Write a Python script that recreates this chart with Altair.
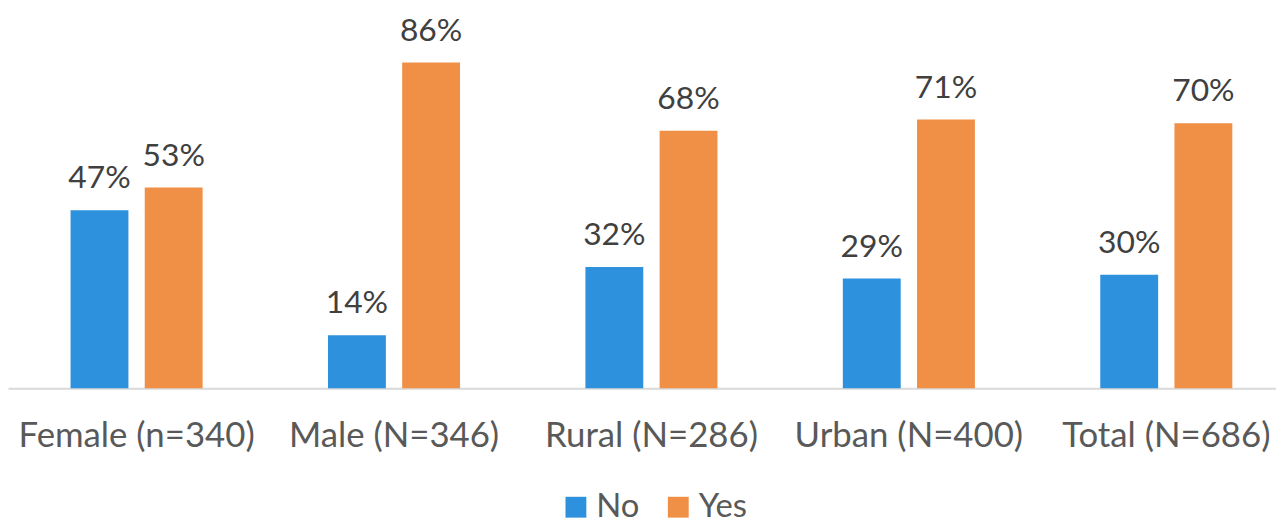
import altair as alt
import pandas as pd

categories = ["Female (n=340)", "Male (N=346)", "Rural (N=286)", "Urban (N=400)", "Total (N=686)"]
no_values = [47, 14, 32, 29, 30]
yes_values = [53, 86, 68, 71, 70]
series = ["No", "Yes"]
colors = ["#2E91DE", "#F08F46"]

rows = []
for c, n, y in zip(categories, no_values, yes_values):
    rows.append({"cat": c, "series": "No", "value": n, "label": f"{n}%"})
    rows.append({"cat": c, "series": "Yes", "value": y, "label": f"{y}%"})
df = pd.DataFrame(rows)

FONT = "Lato"

base = alt.Chart(df).encode(
    x=alt.X("cat:N", sort=categories, title=None,
            scale=alt.Scale(paddingInner=0.487, paddingOuter=0.243, range=[0, 1295]),
            axis=alt.Axis(labelAngle=0, labelFontSize=35, labelColor="#595959", labelFont=FONT,
                          labelLimit=0, ticks=False, domainColor="#D9D9D9", domainWidth=2,
                          labelPadding=31)),
    xOffset=alt.XOffset("series:N", sort=series, scale=alt.Scale(paddingInner=0.22)),
    y=alt.Y("value:Q", scale=alt.Scale(domain=[0, 100], nice=False), axis=None),
)

bars = base.mark_bar().encode(
    color=alt.Color("series:N", sort=series, scale=alt.Scale(domain=series, range=colors),
                    legend=alt.Legend(title=None, orient="none", legendX=555, legendY=484,
                                      direction="horizontal", symbolType="square", symbolSize=440,
                                      labelFontSize=33, labelFont=FONT, labelColor="#595959",
                                      columnPadding=22, symbolStrokeWidth=0))
)

labels = base.mark_text(baseline="alphabetic", dy=-22, fontSize=32, font=FONT, color="#404040").encode(
    text="label:N"
)

chart = (bars + labels).properties(
    width=1268, height=381,
    padding={"left": 0, "right": 8, "top": 0, "bottom": 131},
    autosize=alt.AutoSizeParams(type="none"),
).configure_view(stroke=None)

chart.save("out.html", embed_options={"renderer": "svg", "actions": False})
